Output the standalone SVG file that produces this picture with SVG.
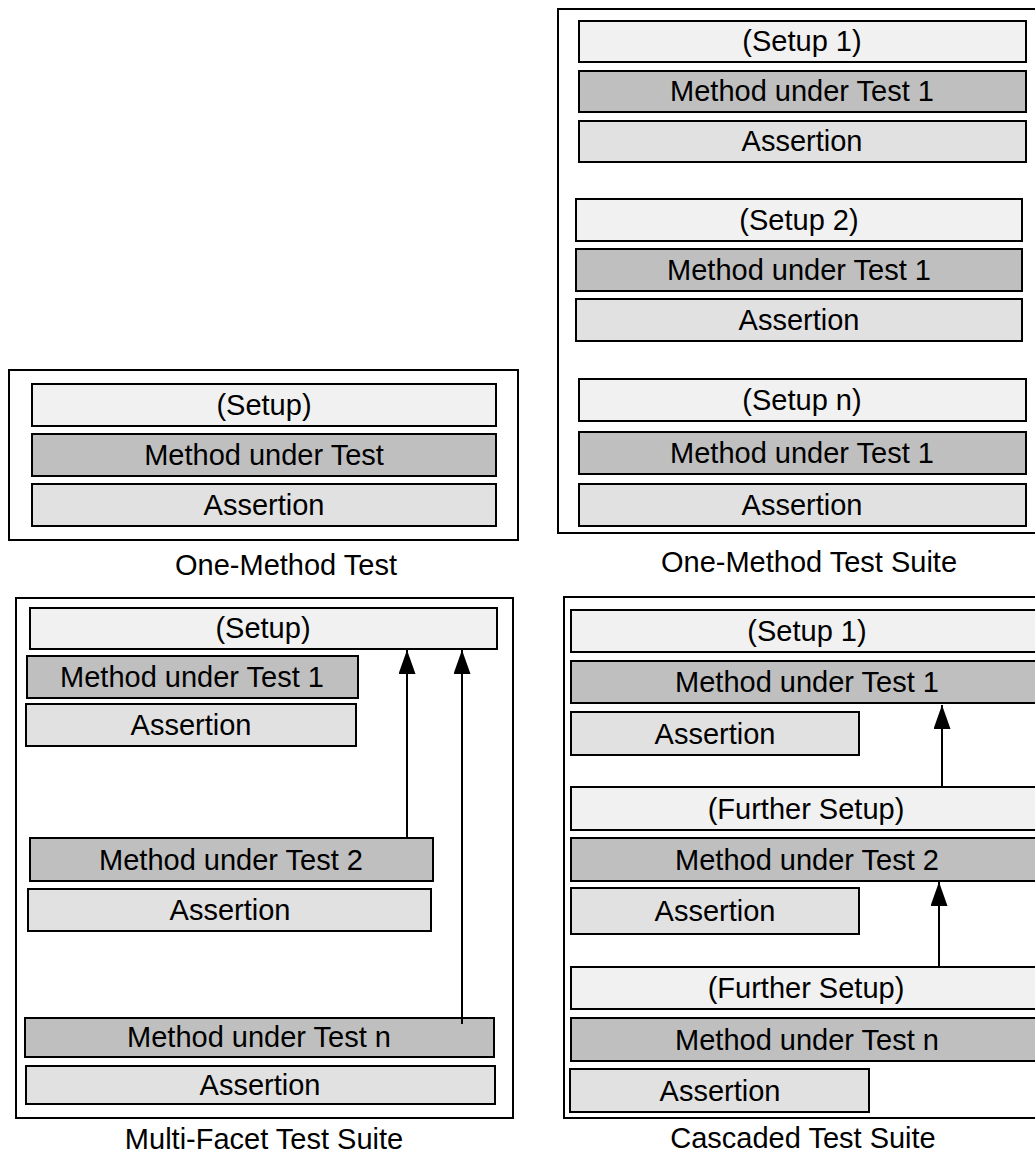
<svg xmlns="http://www.w3.org/2000/svg" width="1035" height="1160" viewBox="0 0 1035 1160">
  <style>
    .frame { fill: #ffffff; stroke: #000000; stroke-width: 2; }
    .setup { fill: #f1f1f1; stroke: #000000; stroke-width: 2; }
    .mut { fill: #bfbfbf; stroke: #000000; stroke-width: 2; }
    .assert { fill: #e1e1e1; stroke: #000000; stroke-width: 2; }
    text { font-family: "Liberation Sans", Arial, Helvetica, sans-serif; font-size: 29px; fill: #000000; text-anchor: middle; }
    .link { stroke: #000000; stroke-width: 2; fill: none; marker-end: url(#head); }
  </style>
  <defs>
    <marker id="head" viewBox="0 0 24 17" refX="24" refY="8.5" markerWidth="24" markerHeight="17" markerUnits="userSpaceOnUse" orient="auto">
      <path d="M0,0 L24,8.5 L0,17 z" fill="#000000"/>
    </marker>
  </defs>
  <rect width="1035" height="1160" fill="#ffffff"/>

  <!-- One-Method Test -->
  <g id="one-method-test">
    <rect class="frame" x="9" y="370" width="509" height="170"/>
    <g id="omt-setup"><rect class="setup" x="32" y="384" width="464" height="42"/><text x="264" y="415">(Setup)</text></g>
    <g id="omt-mut"><rect class="mut" x="32" y="434" width="464" height="42"/><text x="264" y="465">Method under Test</text></g>
    <g id="omt-assert"><rect class="assert" x="32" y="484" width="464" height="42"/><text x="264" y="515">Assertion</text></g>
    <text x="286" y="575">One-Method Test</text>
  </g>

  <!-- One-Method Test Suite -->
  <g id="one-method-test-suite">
    <rect class="frame" x="558" y="9" width="490" height="524"/>
    <g id="omts-setup1"><rect class="setup" x="579" y="21" width="447" height="41"/><text x="802" y="51">(Setup 1)</text></g>
    <g id="omts-mut1a"><rect class="mut" x="579" y="71" width="447" height="41"/><text x="802" y="101">Method under Test 1</text></g>
    <g id="omts-assert1"><rect class="assert" x="579" y="121" width="447" height="41"/><text x="802" y="151">Assertion</text></g>
    <g id="omts-setup2"><rect class="setup" x="576" y="199" width="446" height="42"/><text x="799" y="230">(Setup 2)</text></g>
    <g id="omts-mut1b"><rect class="mut" x="576" y="249" width="446" height="42"/><text x="799" y="280">Method under Test 1</text></g>
    <g id="omts-assert2"><rect class="assert" x="576" y="299" width="446" height="42"/><text x="799" y="330">Assertion</text></g>
    <g id="omts-setupn"><rect class="setup" x="579" y="379" width="447" height="42"/><text x="802" y="410">(Setup n)</text></g>
    <g id="omts-mut1c"><rect class="mut" x="579" y="432" width="447" height="42"/><text x="802" y="463">Method under Test 1</text></g>
    <g id="omts-assertn"><rect class="assert" x="579" y="484" width="447" height="42"/><text x="802" y="515">Assertion</text></g>
    <text x="809" y="572">One-Method Test Suite</text>
  </g>

  <!-- Multi-Facet Test Suite -->
  <g id="multi-facet-test-suite">
    <rect class="frame" x="16" y="598" width="497" height="520"/>
    <g id="mf-setup"><rect class="setup" x="30" y="608" width="467" height="41"/><text x="263" y="638">(Setup)</text></g>
    <g id="mf-mut1"><rect class="mut" x="27" y="656" width="331" height="42"/><text x="192" y="687">Method under Test 1</text></g>
    <g id="mf-assert1"><rect class="assert" x="26" y="704" width="330" height="42"/><text x="191" y="735">Assertion</text></g>
    <g id="mf-mut2"><rect class="mut" x="30" y="838" width="403" height="43"/><text x="231" y="870">Method under Test 2</text></g>
    <g id="mf-assert2"><rect class="assert" x="28" y="889" width="403" height="42"/><text x="230" y="920">Assertion</text></g>
    <g id="mf-mutn"><rect class="mut" x="25" y="1018" width="469" height="39"/><text x="259" y="1047">Method under Test n</text></g>
    <g id="mf-assertn"><rect class="assert" x="26" y="1066" width="469" height="38"/><text x="260" y="1095">Assertion</text></g>
    <text x="264" y="1149">Multi-Facet Test Suite</text>
  </g>

  <!-- Cascaded Test Suite -->
  <g id="cascaded-test-suite">
    <rect class="frame" x="564" y="597" width="490" height="521"/>
    <g id="cs-setup1"><rect class="setup" x="571" y="610" width="475" height="42"/><text x="807" y="641">(Setup 1)</text></g>
    <g id="cs-mut1"><rect class="mut" x="571" y="661" width="475" height="42"/><text x="807" y="692">Method under Test 1</text></g>
    <g id="cs-assert1"><rect class="assert" x="571" y="712" width="288" height="43"/><text x="715" y="744">Assertion</text></g>
    <g id="cs-further1"><rect class="setup" x="571" y="787" width="475" height="43"/><text x="806" y="819">(Further Setup)</text></g>
    <g id="cs-mut2"><rect class="mut" x="571" y="838" width="475" height="43"/><text x="807" y="870">Method under Test 2</text></g>
    <g id="cs-assert2"><rect class="assert" x="571" y="888" width="288" height="46"/><text x="715" y="921">Assertion</text></g>
    <g id="cs-further2"><rect class="setup" x="571" y="967" width="475" height="42"/><text x="806" y="998">(Further Setup)</text></g>
    <g id="cs-mutn"><rect class="mut" x="571" y="1018" width="475" height="43"/><text x="807" y="1050">Method under Test n</text></g>
    <g id="cs-assertn"><rect class="assert" x="570" y="1069" width="299" height="43"/><text x="720" y="1101">Assertion</text></g>
    <text x="803" y="1148">Cascaded Test Suite</text>
  </g>

  <!-- Connectors -->
  <g id="connectors">
    <line class="link" x1="407" y1="838" x2="407" y2="650"/>
    <line class="link" x1="462" y1="1024" x2="462" y2="650"/>
    <line class="link" x1="942" y1="787" x2="942" y2="705"/>
    <line class="link" x1="939" y1="967" x2="939" y2="882"/>
  </g>
</svg>
